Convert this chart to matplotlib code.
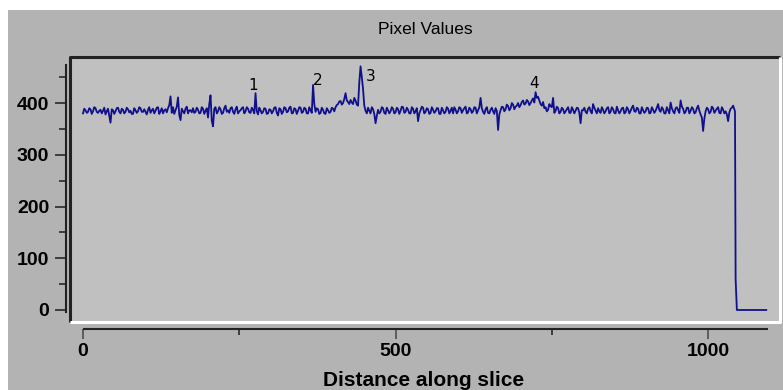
import numpy as np
import matplotlib
matplotlib.use("Agg")
import matplotlib.pyplot as plt
from matplotlib.patches import Rectangle
from matplotlib.ticker import MultipleLocator

# ---- data ----
# samples at distance 0, 4, 8, ... 1040
values_a = [
    380, 386, 383, 388, 384, 390, 381, 387, 385, 378, 389, 362, 386, 384, 391, 380, 387, 383, 388, 385, 379, 386, 384, 390, 383,
    383, 387, 381, 389, 385, 392, 384, 380, 388, 390, 413, 392, 386, 411, 367, 384, 389, 380, 386, 390, 383, 387, 381, 389, 385,
    372, 415, 355, 392, 384, 388, 381, 395, 386, 390, 383, 388, 380, 386, 392, 384, 389, 381, 387, 419, 378, 386, 383, 389, 380,
    387, 384, 392, 376, 388, 383, 390, 384, 393, 381, 388, 385, 391, 383, 389, 380, 386, 435, 383, 388, 381, 387, 379, 386, 383,
    389, 392, 398, 404, 400, 419, 402, 406, 398, 405, 395, 471, 427, 385, 391, 380, 388, 361, 387, 383, 390, 379, 386, 384, 389,
    382, 388, 385, 392, 383, 387, 380, 389, 384, 365, 386, 391, 383, 388, 381, 387, 384, 390, 379, 386, 383, 389, 385, 380, 387,
    384, 390, 386, 393, 382, 388, 384, 391, 386, 410, 383, 388, 381, 387, 384, 390, 348, 386, 392, 388, 394, 390, 397, 393, 400,
    396, 405, 399, 403, 400, 409, 421, 412, 398, 402, 392, 387, 394, 410, 385, 390, 383, 388, 384, 392, 381, 387, 385, 390, 361,
    386, 383, 389, 384, 398, 385, 390, 381, 387, 384, 392, 383, 388, 380, 386, 384, 391, 382, 388, 385, 395, 383, 389, 380, 386,
    384, 390, 381, 387, 385, 398, 383, 388, 380, 386, 401, 384, 390, 386, 405, 389, 383, 391, 385, 389, 382, 395, 378, 346, 384,
    388, 383, 390, 385, 392, 380, 387, 384, 365, 389, 395,
]
# samples at distance 2, 6, 10, ... 1038
values_b = [
    389, 381, 390, 379, 392, 383, 385, 380, 391, 384, 376, 388, 379, 390, 383, 389, 380, 391, 382, 379, 390, 381, 392, 383, 388,
    378, 392, 386, 380, 391, 379, 390, 386, 382, 396, 381, 379, 393, 377, 389, 380, 393, 386, 382, 381, 391, 380, 392, 379, 390,
    398, 366, 389, 380, 392, 379, 390, 383, 381, 392, 379, 393, 384, 390, 380, 392, 382, 391, 380, 384, 391, 380, 390, 379, 388,
    380, 391, 381, 390, 379, 392, 382, 391, 380, 390, 379, 392, 381, 391, 380, 392, 381, 398, 390, 379, 391, 380, 390, 381, 391,
    384, 396, 403, 397, 408, 405, 398, 401, 410, 397, 440, 450, 395, 380, 385, 392, 379, 375, 380, 392, 381, 391, 380, 392, 380,
    391, 379, 393, 381, 391, 380, 392, 380, 390, 380, 393, 380, 390, 379, 392, 381, 390, 379, 391, 380, 392, 380, 391, 392, 380,
    392, 381, 390, 380, 391, 381, 392, 380, 392, 390, 379, 392, 380, 391, 379, 385, 378, 393, 384, 397, 386, 400, 388, 395, 392,
    402, 397, 406, 396, 405, 401, 410, 405, 395, 390, 384, 398, 392, 381, 393, 380, 391, 380, 388, 381, 392, 380, 391, 381, 386,
    391, 380, 392, 380, 391, 380, 384, 392, 380, 390, 380, 392, 381, 393, 380, 390, 380, 392, 380, 391, 384, 391, 380, 392, 381,
    391, 380, 392, 381, 391, 386, 392, 380, 392, 380, 390, 380, 392, 381, 393, 380, 391, 380, 392, 380, 390, 385, 372, 370, 391,
    380, 393, 381, 389, 381, 392, 380, 378, 382, 391,
]
tail_x = [1043, 1044, 1046, 1093]
tail_y = [384, 60, 0, 0]

peak_labels = ["1", "2", "3", "4"]
peak_label_x = [272, 376, 461, 722]
peak_label_y = [433, 443, 452, 437]

title = "Pixel Values"
xlabel = "Distance along slice"
y_ticks = [0, 100, 200, 300, 400]
x_ticks = [0, 500, 1000]

# ---- figure ----
W, H = 783, 390
fig = plt.figure(figsize=(W / 100, H / 100), dpi=100, facecolor="white")
fig.patches.append(Rectangle((8 / W, 0), 1 - 8 / W, (H - 10) / H,
                             transform=fig.transFigure, facecolor="#b3b3b3",
                             edgecolor="none", zorder=-10))

ax = fig.add_axes([70 / W, (H - 322) / H, 710 / W, 265 / H])
ax.set_facecolor("#c0c0c0")

xa = np.arange(len(values_a)) * 4
xb = np.arange(len(values_b)) * 4 + 2
x_all = np.concatenate([xa, xb])
y_all = np.concatenate([values_a, values_b])
order = np.argsort(x_all)
xs = list(x_all[order]) + tail_x
ys = list(y_all[order]) + tail_y
ax.plot(xs, ys, color="#10108c", lw=1.3, zorder=3)

for lab, lx, ly in zip(peak_labels, peak_label_x, peak_label_y):
    ax.text(lx, ly, lab, fontsize=11, ha="center", va="center", color="black",
            family="DejaVu Sans", zorder=4)

ax.set_xlim(-20.8, 1115)
ax.set_ylim(-23.2, 489)

# bevel frame
ax.plot([0, 0, 1], [0, 1, 1], transform=ax.transAxes, color="#222222", lw=2.2,
        clip_on=False, zorder=5, solid_capstyle="butt")
ax.plot([0, 1, 1], [0, 0, 1], transform=ax.transAxes, color="white", lw=2.2,
        clip_on=False, zorder=5, solid_capstyle="butt")

for s in ["top", "right"]:
    ax.spines[s].set_visible(False)
ax.spines["left"].set_position(("outward", 3))
ax.spines["left"].set_bounds(-3, 473)
ax.spines["left"].set_linewidth(1.5)
ax.spines["left"].set_color("#222222")
ax.spines["bottom"].set_position(("outward", 5))
ax.spines["bottom"].set_bounds(0, 1096)
ax.spines["bottom"].set_linewidth(1.5)
ax.spines["bottom"].set_color("#222222")
ax.spines["bottom"].set_capstyle("butt")

ax.set_yticks(y_ticks)
ax.yaxis.set_minor_locator(MultipleLocator(50))
ax.set_xticks(x_ticks)
ax.xaxis.set_minor_locator(MultipleLocator(250))

tick_font = dict(family="Liberation Sans", weight="bold", size=14)
ax.set_yticklabels([str(v) for v in y_ticks], fontdict=tick_font)
ax.set_xticklabels([str(v) for v in x_ticks], fontdict=tick_font)
ax.tick_params(axis="y", which="major", direction="out", length=8, width=1.3,
               color="#333333", pad=4)
ax.tick_params(axis="y", which="minor", direction="out", length=5, width=1.3,
               color="#333333")
ax.tick_params(axis="x", which="major", direction="out", length=7, width=1.3,
               color="#555555", pad=3)
ax.tick_params(axis="x", which="minor", direction="out", length=4, width=1.3,
               color="#333333")

fig.text(425 / W, 1 - 30 / H, title, ha="center", va="center",
         family="Liberation Sans", size=12.5, color="black")
fig.text(424 / W, 1 - 380 / H, xlabel, ha="center", va="center",
         family="Liberation Sans", weight="bold", size=15, color="black")

fig.savefig("out.png", dpi=100, facecolor=fig.get_facecolor())
